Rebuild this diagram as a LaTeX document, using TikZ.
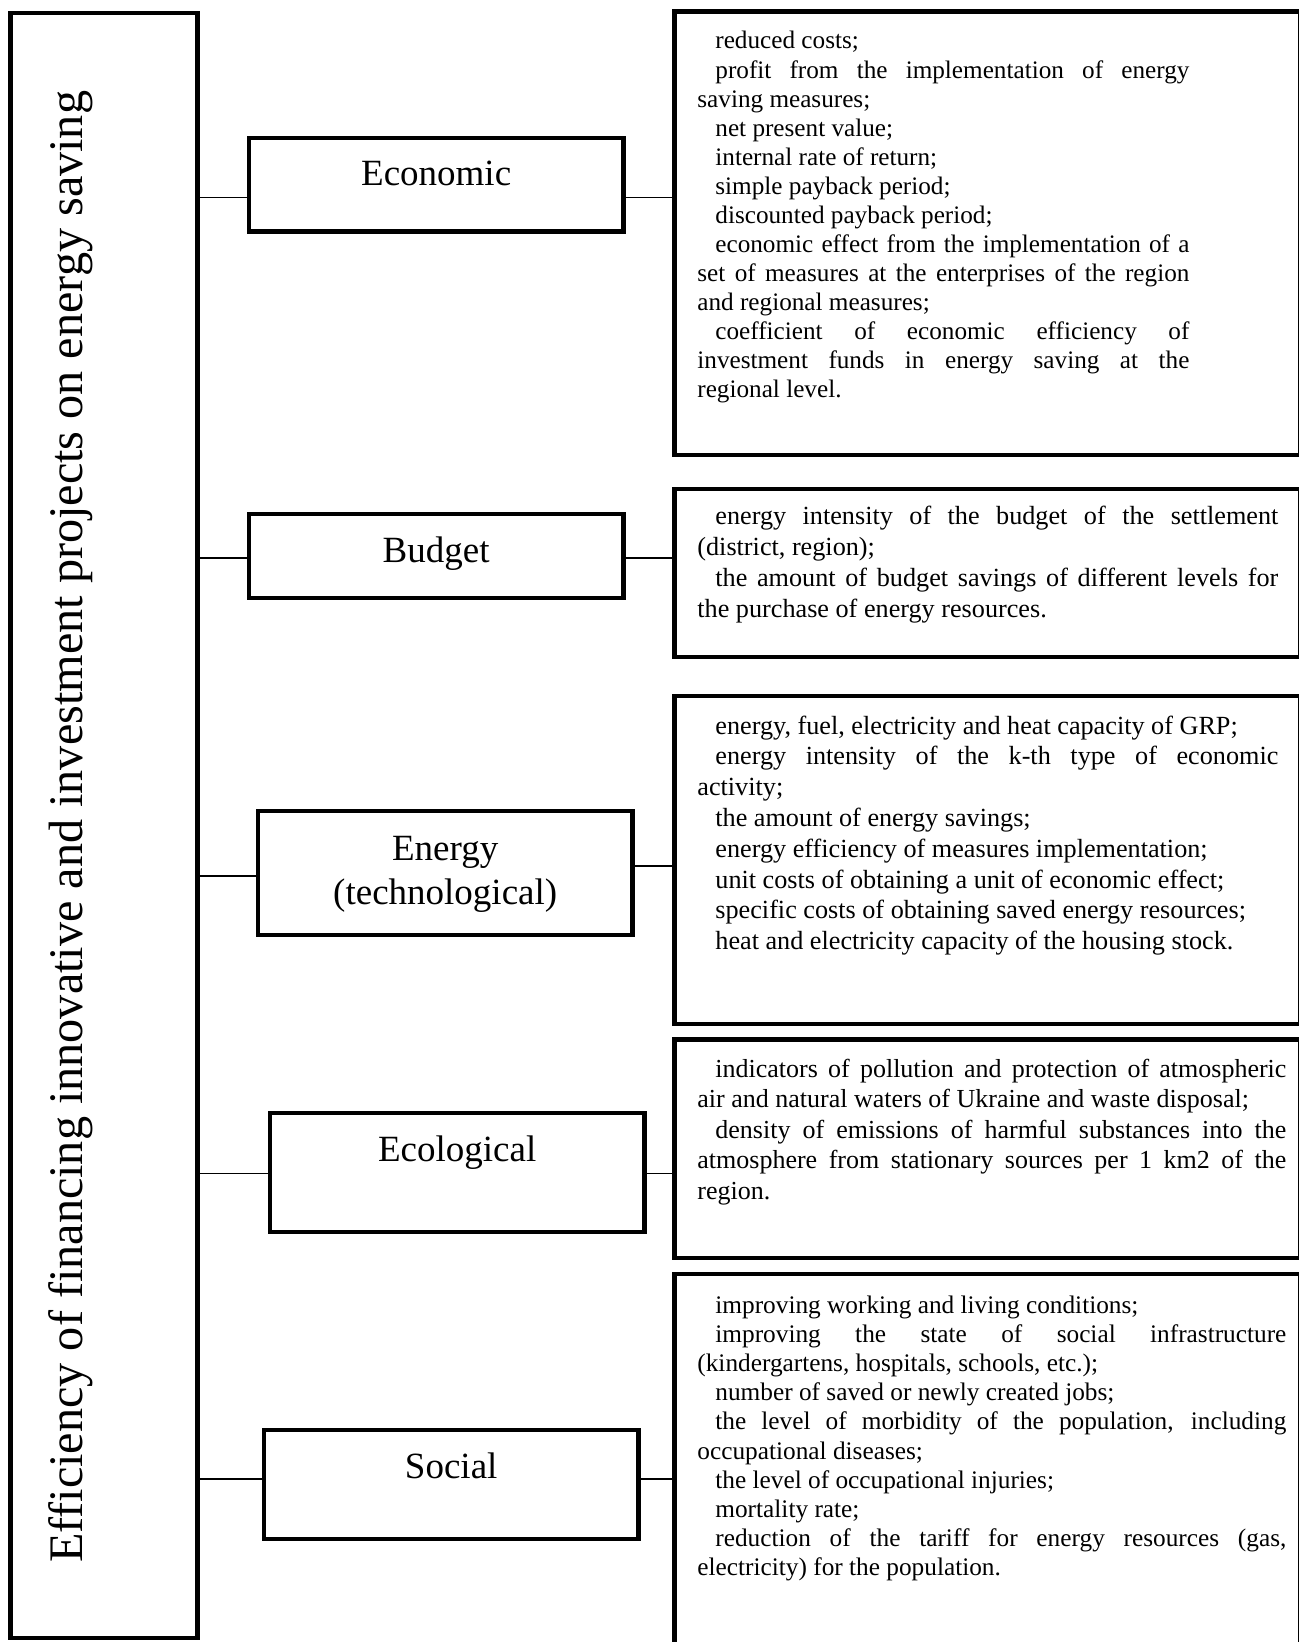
\documentclass[tikz,border=0pt]{standalone}
\usepackage{fontspec}
\setmainfont{Liberation Serif}

% justified list of indicators: size, leading, width, paragraphs
\newcommand{\listpar}[4]{\parbox[t]{#3}{\fontsize{#1}{#2}\selectfont
  \setlength{\parindent}{9pt}\setlength{\parskip}{0pt}%
  \tolerance=10000 \hbadness=10000 \hyphenpenalty=10000 #4}}

\begin{document}
\begin{tikzpicture}[x=0.5pt, y=-0.5pt,
  frame/.style={draw, line width=2.35pt, inner sep=0pt, outer sep=0pt},
  link/.style={line width=0.7pt},
  head/.style={font=\fontsize{18.5pt}{22pt}\selectfont, inner sep=0pt, align=center},
  body/.style={anchor=base west, inner sep=0pt}]
\useasboundingbox (0,0) rectangle (1298,1642);

% overall criterion
\node[frame, minimum width=93.6pt, minimum height=812.5pt] (main) at (103.9,825.5) {};
\node[rotate=90, anchor=base, inner sep=0pt, font=\fontsize{24.1pt}{29pt}\selectfont] (title) at (82,827)
  {Efficiency of financing innovative and investment projects on energy saving};

% kinds of efficiency
\node[frame, minimum width=187.15pt, minimum height=46.65pt] (econ) at (436.15,184.65) {};
\node[head, anchor=base] (econT) at (436.15,186) {Economic};

\node[frame, minimum width=187.15pt, minimum height=42pt] (budg) at (436.15,556) {};
\node[head, anchor=base] (budgT) at (436.15,562) {Budget};

\node[frame, minimum width=187.15pt, minimum height=62pt] (ener) at (445.2,873) {};
\node[head] (enerT) at (445.2,874) {Energy\\(technological)};

\node[frame, minimum width=187.15pt, minimum height=59.5pt] (ecol) at (457.2,1172.5) {};
\node[head, anchor=base] (ecolT) at (457.2,1161) {Ecological};

\node[frame, minimum width=187.15pt, minimum height=54.5pt] (soc) at (451.2,1484.5) {};
\node[head, anchor=base] (socT) at (451.2,1478) {Social};

% indicator boxes
\node[frame, minimum width=312.6pt, minimum height=221.65pt] (econL) at (987.4,233.35) {};
\node[frame, minimum width=312.6pt, minimum height=84pt] (budgL) at (987.4,573) {};
\node[frame, minimum width=312.6pt, minimum height=164pt] (enerL) at (987.4,860) {};
\node[frame, minimum width=312.6pt, minimum height=109.25pt] (ecolL) at (987.4,1148.75) {};
\node[frame, minimum width=312.6pt, minimum height=213pt] (socL) at (987.4,1487) {};

% indicator texts
\node[body] (econX) at (697,49) {\listpar{12.6pt}{14.525pt}{246pt}{%
reduced costs;\par
profit from the implementation of energy\linebreak saving measures;\par
net present value;\par
internal rate of return;\par
simple payback period;\par
discounted payback period;\par
economic effect from the implementation of a\linebreak set of measures at the enterprises of the region\linebreak and regional measures;\par
coefficient of economic efficiency of\linebreak investment funds in energy saving at the\linebreak regional level.}};

\node[body] (budgX) at (697,524) {\listpar{13.1pt}{15.5pt}{290.5pt}{%
energy intensity of the budget of the settlement\linebreak (district, region);\par
the amount of budget savings of different levels for\linebreak the purchase of energy resources.}};

\node[body] (enerX) at (697,734) {\listpar{13.1pt}{15.4pt}{290.5pt}{%
energy, fuel, electricity and heat capacity of GRP;\par
energy intensity of the k-th type of economic\linebreak activity;\par
the amount of energy savings;\par
energy efficiency of measures implementation;\par
unit costs of obtaining a unit of economic effect;\par
specific costs of obtaining saved energy resources;\par
heat and electricity capacity of the housing stock.}};

\node[body] (ecolX) at (697,1077) {\listpar{13pt}{15.3pt}{294.5pt}{%
indicators of pollution and protection of atmospheric\linebreak air and natural waters of Ukraine and waste disposal;\par
density of emissions of harmful substances into the\linebreak atmosphere from stationary sources per 1 km2 of the\linebreak region.}};

\node[body] (socX) at (697,1313) {\listpar{12.65pt}{14.6pt}{294.5pt}{%
improving working and living conditions;\par
improving the state of social infrastructure\linebreak (kindergartens, hospitals, schools, etc.);\par
number of saved or newly created jobs;\par
the level of morbidity of the population, including\linebreak occupational diseases;\par
the level of occupational injuries;\par
mortality rate;\par
reduction of the tariff for energy resources (gas,\linebreak electricity) for the population.}};

% connectors
\coordinate (l1) at (0,197.3);
\coordinate (l2) at (0,558);
\coordinate (l3) at (0,876);
\coordinate (r3) at (0,866);
\coordinate (l4) at (0,1173.5);
\coordinate (l5) at (0,1479);
\draw[link] (main.east |- l1) -- (econ.west |- l1);
\draw[link] (econ.east |- l1) -- (econL.west |- l1);
\draw[link] (main.east |- l2) -- (budg.west |- l2);
\draw[link] (budg.east |- l2) -- (budgL.west |- l2);
\draw[link] (main.east |- l3) -- (ener.west |- l3);
\draw[link] (ener.east |- r3) -- (enerL.west |- r3);
\draw[link] (main.east |- l4) -- (ecol.west |- l4);
\draw[link] (ecol.east |- l4) -- (ecolL.west |- l4);
\draw[link] (main.east |- l5) -- (soc.west |- l5);
\draw[link] (soc.east |- l5) -- (socL.west |- l5);
\end{tikzpicture}
\end{document}
